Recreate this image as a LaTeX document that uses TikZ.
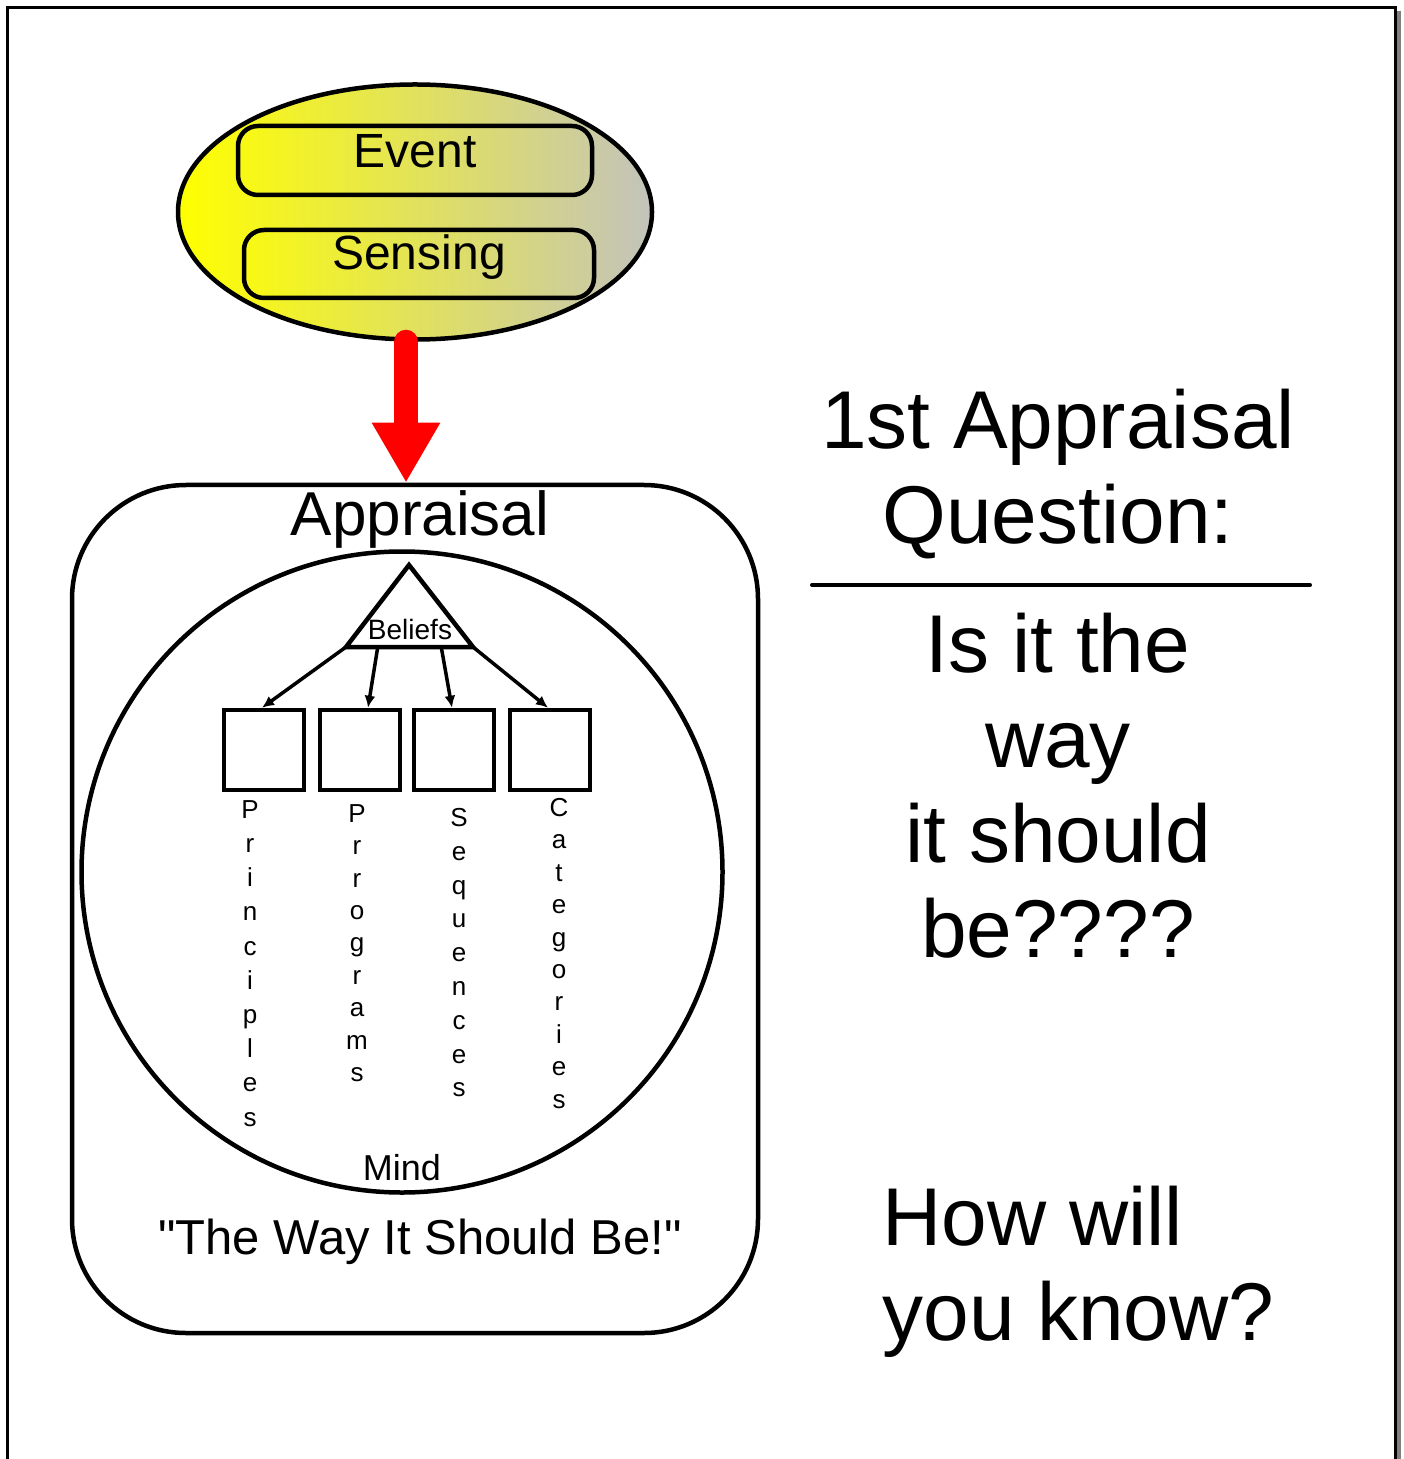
\documentclass[tikz,border=0pt]{standalone}
\usepackage{fontspec}
\setmainfont{Liberation Sans}[Ligatures=TeXOff]
\usetikzlibrary{shapes.geometric,arrows.meta,calc}
\definecolor{shadegray}{RGB}{195,195,188}
\definecolor{arrowred}{RGB}{255,0,0}
\newcommand{\sizequest}{\fontsize{41pt}{47pt}\selectfont}
\newcommand{\sizebox}{\fontsize{24pt}{28pt}\selectfont}
\tikzset{
  roundbox/.style={draw, line width=2.25pt, rounded corners=10pt, inner ysep=0pt, font=\sizebox},
  slotbox/.style={draw, line width=2.25pt, minimum size=40pt, inner sep=0pt},
  vlabel/.style={align=center, inner sep=0pt, anchor=north, font=\fontsize{13pt}{#1}\selectfont},
  beliefarrow/.style={line width=1.75pt, -{Latex[length=6pt,width=5.5pt]}},
  qtext/.style={anchor=base, inner sep=0pt, font=\sizequest},
}

\begin{document}
\begin{tikzpicture}[x=0.5pt,y=-0.5pt]
            \useasboundingbox (0,0) rectangle (1403,1459);
            \draw[line width=1.5pt] (7,1459) -- (7,8) -- (1395,8) -- (1395,1459);
            \draw[line width=2pt, gray] (1399,11) -- (1399,1459);
            \node[ellipse, draw, line width=2.25pt, left color=yellow, right color=shadegray,
                  minimum width=237pt, minimum height=127.5pt] (ell) at (415,212) {};
            \node[roundbox, anchor=base, minimum width=177pt, text height=21pt, text depth=13.5pt,
                  left color=yellow!90!shadegray, right color=shadegray!85!yellow] (event) at (415,168) {Event};
            \node[roundbox, anchor=base, minimum width=175pt, text height=20pt, text depth=14pt,
                  left color=yellow!90!shadegray, right color=shadegray!85!yellow] (sensing) at (419,270) {Sensing};
            \node[draw, line width=2.25pt, rounded corners=57pt, minimum width=343pt, minimum height=424pt] (apbox) at (415,909) {};
            \draw[arrowred, line width=12pt, line cap=round, -{Triangle[width=32pt,length=30pt]}]
                ([xshift=-4.5pt]ell.south) -- ([xshift=-4.5pt]apbox.north);
            \node[anchor=base, inner sep=0pt, font=\fontsize{31pt}{36pt}\selectfont] (appraisal) at (420,535) {Appraisal};
            \node[circle, draw, line width=2.25pt, minimum size=320.5pt] (mind) at (402,872) {};
            \coordinate (tA) at (409,565);
            \coordinate (tB) at (346,647);
            \coordinate (tC) at (473,647);
            \coordinate (tq1) at ($(tB)!0.25!(tC)$);
            \coordinate (tq3) at ($(tB)!0.75!(tC)$);
            \draw[line width=2.25pt] (tA) -- (tB) -- (tC) -- cycle;
            \node[anchor=base, inner sep=0pt, font=\fontsize{14pt}{16pt}\selectfont] (beliefs) at (410,639) {Beliefs};
            \node[slotbox] (b1) at (264,750) {};
            \node[slotbox] (b2) at (360,750) {};
            \node[slotbox] (b3) at (454,750) {};
            \node[slotbox] (b4) at (550,750) {};
            \draw[beliefarrow] (tB) -- ([xshift=-1pt]b1.north);
            \draw[beliefarrow] (tq1) -- ([xshift=4pt]b2.north);
            \draw[beliefarrow] (tq3) -- ([xshift=-1pt]b3.north);
            \draw[beliefarrow] (tC) -- ([xshift=-1pt]b4.north);
            \node[vlabel=17.1pt] (princ) at (250,800) {P\\r\\i\\n\\c\\i\\p\\l\\e\\s};
            \node[vlabel=16.2pt] (progr) at (357,804) {P\\r\\r\\o\\g\\r\\a\\m\\s};
            \node[vlabel=16.9pt] (seque) at (459,808) {S\\e\\q\\u\\e\\n\\c\\e\\s};
            \node[vlabel=16.2pt] (categ) at (559,798) {C\\a\\t\\e\\g\\o\\r\\i\\e\\s};
            \node[anchor=base, inner sep=0pt, font=\fontsize{18pt}{21pt}\selectfont] (mindtxt) at (402,1180) {Mind};
            \node[anchor=base, inner sep=0pt, font=\fontsize{24.5pt}{29pt}\selectfont] (shouldbe) at (420,1254) {"The Way It Should Be!"};
            \node[qtext] (q1) at (1058,449) {1st Appraisal};
            \node[qtext] (q2) at (1058,543) {Question:};
            \coordinate (ruleL) at (812,585);
            \coordinate (ruleR) at (1310,585);
            \draw[line width=2pt, line cap=round] (ruleL) -- (ruleR);
            \node[qtext] (q3) at (1058,672) {Is it the};
            \node[qtext] (q4) at (1058,767) {way};
            \node[qtext] (q5) at (1058,862) {it should};
            \node[qtext] (q6) at (1058,957) {be????};
            \node[qtext, anchor=base west] (k1) at (882,1245) {How will};
            \node[qtext, anchor=base west] (k2) at (882,1340) {you know?};
        \end{tikzpicture}
\end{document}
